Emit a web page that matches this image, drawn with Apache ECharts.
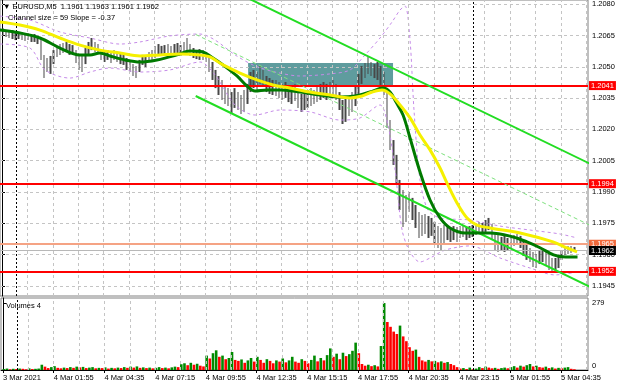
<!DOCTYPE html>
<html><head><meta charset="utf-8">
<script src="https://cdn.jsdelivr.net/npm/echarts@6/dist/echarts.min.js"></script>
<style>html,body{margin:0;padding:0;background:#fff}#c{width:620px;height:388px}</style>
</head><body><div id="c"></div><script>
// ---------- texts ----------
const headerText = '\u25BC EURUSD,M5  1.1961 1.1963 1.1961 1.1962';
const channelText = 'Channel size = 59 Slope = -0.37';
const volumeTitle = 'Volumes 4';
// ---------- axes ----------
const dateBars = [0,32,64,96,128,160,192,224,256,288,320,352];
const dateLabels = ['3 Mar 2021','4 Mar 01:55','4 Mar 04:35','4 Mar 07:15','4 Mar 09:55','4 Mar 12:35','4 Mar 15:15','4 Mar 17:55','4 Mar 20:35','4 Mar 23:15','5 Mar 01:55','5 Mar 04:35'];
const gridBars = [16,32,48,64,80,96,112,128,144,160,176,192,208,224,240,256,272,288,304,320,336,352,368];
const daySeparators = [9,297];
const priceTicks = [1.2080,1.2065,1.2050,1.2035,1.2020,1.2005,1.1990,1.1975,1.1960,1.1945];
const volumeTicks = [0,279];
// ---------- price bars (each entry = two M5 bars) ----------
const hi = [
1.20686,1.20676,1.20672,1.20676,1.20667,1.20662,1.20667,1.20657,1.20662,1.20652,
1.20657,1.20648,1.20638,1.20557,1.20542,1.20552,1.20580,1.20600,1.20609,1.20614,
1.20619,1.20609,1.20604,1.20580,1.20557,1.20552,1.20590,1.20619,1.20638,1.20619,
1.20609,1.20580,1.20571,1.20580,1.20571,1.20580,1.20571,1.20561,1.20566,1.20542,
1.20533,1.20513,1.20504,1.20533,1.20557,1.20552,1.20571,1.20580,1.20600,1.20609,
1.20600,1.20604,1.20609,1.20600,1.20609,1.20614,1.20604,1.20619,1.20638,1.20609,
1.20590,1.20580,1.20585,1.20580,1.20571,1.20557,1.20523,1.20485,1.20456,1.20437,
1.20413,1.20398,1.20379,1.20398,1.20379,1.20365,1.20389,1.20418,1.20475,1.20485,
1.20475,1.20504,1.20485,1.20456,1.20446,1.20437,1.20437,1.20427,1.20418,1.20427,
1.20413,1.20408,1.20418,1.20389,1.20370,1.20379,1.20389,1.20398,1.20389,1.20408,
1.20418,1.20427,1.20418,1.20427,1.20437,1.20418,1.20379,1.20341,1.20351,1.20360,
1.20379,1.20408,1.20466,1.20504,1.20518,1.20547,1.20523,1.20513,1.20523,1.20504,
1.20475,1.20389,1.20245,1.20149,1.20078,1.19958,1.19910,1.19886,1.19900,1.19872,
1.19838,1.19805,1.19790,1.19795,1.19785,1.19776,1.19757,1.19737,1.19728,1.19742,
1.19737,1.19728,1.19737,1.19733,1.19737,1.19742,1.19733,1.19737,1.19742,1.19747,
1.19757,1.19752,1.19766,1.19776,1.19747,1.19709,1.19694,1.19685,1.19690,1.19680,
1.19690,1.19694,1.19699,1.19690,1.19670,1.19651,1.19632,1.19613,1.19603,1.19622,
1.19632,1.19622,1.19603,1.19584,1.19584,1.19594,1.19622,1.19637,1.19642,1.19642,
1.19637];
const lo = [
1.20648,1.20643,1.20638,1.20633,1.20628,1.20633,1.20628,1.20624,1.20628,1.20619,
1.20619,1.20609,1.20533,1.20446,1.20475,1.20466,1.20513,1.20547,1.20557,1.20566,
1.20571,1.20557,1.20561,1.20518,1.20485,1.20475,1.20513,1.20557,1.20580,1.20571,
1.20561,1.20533,1.20523,1.20533,1.20518,1.20533,1.20523,1.20513,1.20509,1.20485,
1.20475,1.20456,1.20446,1.20475,1.20509,1.20499,1.20523,1.20533,1.20542,1.20557,
1.20552,1.20557,1.20557,1.20547,1.20561,1.20561,1.20552,1.20571,1.20571,1.20552,
1.20542,1.20537,1.20533,1.20533,1.20523,1.20475,1.20437,1.20398,1.20365,1.20341,
1.20322,1.20312,1.20279,1.20303,1.20293,1.20274,1.20284,1.20322,1.20379,1.20398,
1.20389,1.20418,1.20408,1.20379,1.20370,1.20365,1.20360,1.20351,1.20341,1.20351,
1.20331,1.20322,1.20336,1.20303,1.20284,1.20293,1.20303,1.20312,1.20322,1.20331,
1.20341,1.20351,1.20341,1.20351,1.20360,1.20341,1.20293,1.20226,1.20236,1.20264,
1.20284,1.20312,1.20370,1.20418,1.20446,1.20466,1.20456,1.20446,1.20437,1.20408,
1.20365,1.20207,1.20101,1.20030,1.19934,1.19814,1.19733,1.19757,1.19805,1.19766,
1.19728,1.19680,1.19690,1.19699,1.19680,1.19690,1.19651,1.19632,1.19622,1.19651,
1.19670,1.19661,1.19670,1.19661,1.19680,1.19685,1.19670,1.19680,1.19685,1.19694,
1.19709,1.19699,1.19709,1.19718,1.19670,1.19622,1.19613,1.19622,1.19613,1.19622,
1.19632,1.19642,1.19646,1.19632,1.19594,1.19575,1.19565,1.19541,1.19536,1.19555,
1.19565,1.19546,1.19527,1.19522,1.19527,1.19536,1.19575,1.19598,1.19603,1.19608,
1.19613];
const vol = [
4,6,3,5,4,6,5,3,7,4, 5,6,22,14,8,12,16,9,7,10,
8,12,9,14,11,13,8,10,12,7, 9,8,11,6,9,7,10,8,12,9,
14,10,15,9,11,8,10,7,9,12, 8,10,7,11,14,12,24,28,20,30,
22,26,18,15,60,48,70,82,55,60, 45,50,75,42,38,44,30,40,50,35,
55,42,30,45,38,28,40,35,48,32, 40,55,35,30,45,38,28,42,60,36,
50,40,62,90,55,68,45,72,58,66, 80,114,70,25,18,22,16,20,15,100,
279,200,180,160,150,185,140,120,95,80, 85,55,40,35,42,36,38,32,36,30,
33,25,20,12,6,8,4,10,3,6, 12,8,14,10,7,9,5,8,10,7,
12,16,10,18,14,20,25,15,18,12, 10,14,8,11,6,9,7,10,12,5,
3];
// ---------- indicators [bar index, price] ----------
const maYellow = [[-1.3,1.20715],[11.3,1.20700],[23.9,1.20676],[36.5,1.20638],[49.1,1.20604],[61.7,1.20580],[74.3,1.20566],[86.9,1.20552],[99.5,1.20557],[112.1,1.20561],[124.7,1.20557],[131.0,1.20547],[139.2,1.20509],[149.9,1.20470],[160.6,1.20437],[170.7,1.20413],[181.4,1.20398],[194.0,1.20379],[206.6,1.20365],[219.2,1.20351],[226.8,1.20360],[233.1,1.20379],[239.4,1.20389],[244.4,1.20370],[250.7,1.20317],[257.0,1.20255],[263.3,1.20173],[269.6,1.20102],[275.9,1.20015],[280.3,1.19943],[286.6,1.19848],[292.9,1.19776],[299.2,1.19742],[307.4,1.19728],[326.3,1.19704],[347.1,1.19661],[355.9,1.19632],[362.2,1.19613]];
const maGreen = [[-1.3,1.20676],[11.3,1.20662],[23.9,1.20638],[36.5,1.20590],[49.1,1.20557],[55.4,1.20557],[61.7,1.20566],[68.0,1.20552],[77.5,1.20533],[86.9,1.20523],[97.6,1.20533],[110.2,1.20557],[118.4,1.20576],[126.6,1.20571],[132.9,1.20542],[139.2,1.20509],[148.0,1.20456],[154.3,1.20408],[159.4,1.20384],[166.9,1.20389],[175.1,1.20389],[187.7,1.20379],[200.3,1.20365],[212.9,1.20355],[222.4,1.20360],[231.8,1.20379],[240.0,1.20398],[244.4,1.20379],[248.2,1.20331],[252.6,1.20269],[257.0,1.20159],[263.3,1.19996],[269.6,1.19862],[275.9,1.19776],[282.2,1.19728],[291.7,1.19704],[307.4,1.19704],[321.9,1.19685],[330.7,1.19661],[339.2,1.19632],[347.4,1.19599],[355.0,1.19589],[362.5,1.19589]];
const bandUpper = [[-1.3,1.20743],[17.6,1.20724],[36.5,1.20667],[55.4,1.20638],[74.3,1.20609],[86.9,1.20619],[105.8,1.20648],[124.7,1.20657],[134.2,1.20628],[146.8,1.20557],[159.4,1.20504],[172.0,1.20475],[187.7,1.20456],[206.6,1.20466],[219.2,1.20485],[228.7,1.20557],[238.1,1.20638],[245.7,1.20715],[250.7,1.20772],[253.9,1.20791],[257.0,1.20628],[259.5,1.20293],[263.3,1.19958],[268.3,1.19814],[275.9,1.19776],[294.8,1.19766],[313.7,1.19737],[332.6,1.19718],[351.5,1.19699],[362.2,1.19680]];
const bandLower = [[-1.3,1.20609],[17.6,1.20590],[27.1,1.20485],[42.8,1.20446],[55.4,1.20475],[68.0,1.20494],[86.9,1.20475],[105.8,1.20485],[124.7,1.20523],[134.2,1.20461],[146.8,1.20317],[159.4,1.20269],[175.1,1.20293],[194.0,1.20284],[212.9,1.20245],[225.5,1.20255],[238.1,1.20317],[243.1,1.20221],[247.6,1.20006],[252.0,1.19718],[257.0,1.19613],[263.3,1.19565],[269.6,1.19584],[279.1,1.19622],[294.8,1.19642],[313.7,1.19584],[332.6,1.19536],[348.3,1.19503],[362.2,1.19517]];
const channelBars = [122,370];
const channelUpper = [1.20950,1.20037];
const channelMid = [1.20655,1.19742];
const channelLower = [1.20360,1.19447];
const boxBars = [155.0,246.3];
const boxPrices = [1.20518,1.2041];
const redLevels = [1.2041,1.1994,1.1952];
const coralLevel = 1.1965;
const bidLevel = 1.1962;
// ---------- build ----------
const FONT = 'Liberation Sans, Arial, sans-serif';
const FS = 7.5;
const XMIN = -1.26, XMAX = 369.1;
const YMIN = 1.19402, YMAX = 1.2082;
const VMAX = 300;
const chart = echarts.init(document.getElementById('c'), null, {renderer:'canvas'});
const gridLineStyle = {color: '#c4c4c4', type: [3,3], width: 1};
const hLine = (v, extra) => [Object.assign({coord: [XMIN, v]}, extra), {coord: [XMAX, v]}];
const vLine = (b, y0, y1, extra) => [Object.assign({coord: [b, y0]}, extra), {coord: [b, y1]}];
const tag = (v, bg, line, w) => hLine(v, {
  lineStyle: {color: line, width: w, type: 'solid'},
  label: {show: true, position: 'end', distance: 1, formatter: () => v.toFixed(4),
    color: '#fff', backgroundColor: bg, padding: [1,2,0,2], fontSize: FS, fontFamily: FONT}
});
const gridItem = {lineStyle: gridLineStyle, label: {show: false}};
const sepItem = {lineStyle: {color: '#000', type: [2,2], width: 1}, label: {show: false}};
const pairs = (xs, ys) => xs.map((x,i) => [x, ys[i]]);
const txt = {fontSize: FS, fontWeight: 'normal', color: '#000', fontFamily: FONT};
const option = {
  animation: false,
  backgroundColor: '#fff',
  textStyle: {fontFamily: FONT},
  title: [
    {text: headerText, left: 3, top: 3, padding: 0, textStyle: txt},
    {text: channelText, left: 8, top: 14, padding: 0, textStyle: txt},
    {text: volumeTitle, left: 6, top: 302, padding: 0, textStyle: txt}
  ],
  grid: [
    {left: 0, top: 0, width: 588, height: 296, show: true, borderColor: '#808080', borderWidth: 1, backgroundColor: '#fff'},
    {left: 0, top: 298, width: 588, height: 72, show: true, borderColor: '#808080', borderWidth: 1, backgroundColor: '#fff'}
  ],
  xAxis: [
    {type: 'value', gridIndex: 0, min: XMIN, max: XMAX, axisLine: {show: false}, axisTick: {show: false}, axisLabel: {show: false}, splitLine: {show: false}},
    {type: 'value', gridIndex: 1, min: XMIN, max: XMAX, axisLine: {show: true, lineStyle: {color: '#000'}},
      axisTick: {show: true, customValues: dateBars, length: 3, lineStyle: {color: '#000'}},
      axisLabel: {customValues: dateBars, formatter: v => dateLabels[dateBars.indexOf(v)] || '', align: 'left', fontSize: FS, color: '#000', margin: 4, fontFamily: FONT},
      splitLine: {show: false}}
  ],
  yAxis: [
    {type: 'value', gridIndex: 0, position: 'right', min: YMIN, max: YMAX, axisLine: {show: true, lineStyle: {color: '#000'}},
      axisTick: {show: true, customValues: priceTicks, length: 3, lineStyle: {color: '#000'}},
      axisLabel: {customValues: priceTicks, formatter: v => v.toFixed(4), fontSize: FS, color: '#000', margin: 4, fontFamily: FONT},
      splitLine: {show: false}},
    {type: 'value', gridIndex: 1, position: 'right', min: 0, max: VMAX, axisLine: {show: true, lineStyle: {color: '#000'}},
      axisTick: {show: true, customValues: volumeTicks, length: 3, lineStyle: {color: '#000'}},
      axisLabel: {customValues: volumeTicks, formatter: v => v === 0 ? '{z|0}' : '{t|' + v + '}', fontSize: FS, color: '#000', margin: 4, fontFamily: FONT,
        rich: {z: {fontSize: FS, padding: [0,0,8,0], fontFamily: FONT}, t: {fontSize: FS, fontFamily: FONT}}},
      splitLine: {show: false}}
  ],
  series: [
    // horizontal price grid lines
    {type: 'lines', coordinateSystem: 'cartesian2d', xAxisIndex: 0, yAxisIndex: 0, z: 1, silent: true,
      lineStyle: {color: '#c4c4c4', type: [3,3], width: 1, opacity: 1, curveness: 0},
      data: priceTicks.map(v => ({coords: [[XMIN, v], [XMAX, v]]}))},
    // vertical grid lines main pane
    {type: 'line', xAxisIndex: 0, yAxisIndex: 0, data: [], z: 1, silent: true,
      markLine: {silent: true, symbol: ['none','none'], label: {show: false}, animation: false,
        lineStyle: gridLineStyle,
        data: gridBars.map(b => vLine(b, YMIN, YMAX, gridItem))
          .concat(daySeparators.map(b => vLine(b, YMIN, YMAX, sepItem)))}},
    // vertical grid lines volume pane
    {type: 'line', xAxisIndex: 1, yAxisIndex: 1, data: [], z: 1, silent: true,
      markLine: {silent: true, symbol: ['none','none'], label: {show: false}, animation: false,
        lineStyle: gridLineStyle,
        data: gridBars.map(b => vLine(b, 0, VMAX, gridItem))
          .concat(daySeparators.map(b => vLine(b, 0, VMAX, sepItem)))}},
    // teal box
    {type: 'line', xAxisIndex: 0, yAxisIndex: 0, data: [], z: 2, silent: true,
      markArea: {silent: true, itemStyle: {color: '#5f9c9e', opacity: 1},
        data: [[{coord: [boxBars[0], boxPrices[0]]}, {coord: [boxBars[1], boxPrices[1]]}]]}},
    // price bars
    {type: 'candlestick', xAxisIndex: 0, yAxisIndex: 0, z: 3, barWidth: 2, silent: true,
      encode: {x: 0, y: [1,2,3,4]},
      data: hi.map((h, g) => [2*g + 0.5, lo[g], h, lo[g], h]),
      itemStyle: {color: '#484848', color0: '#484848', borderColor: '#484848', borderColor0: '#484848', borderWidth: 0}},
    // bollinger-like bands
    {type: 'line', xAxisIndex: 0, yAxisIndex: 0, data: bandUpper, smooth: 0.3, symbol: 'none', z: 4,
      lineStyle: {color: '#c58be8', width: 1, type: [3,3]}},
    {type: 'line', xAxisIndex: 0, yAxisIndex: 0, data: bandLower, smooth: 0.3, symbol: 'none', z: 4,
      lineStyle: {color: '#c58be8', width: 1, type: [3,3]}},
    // regression channel
    {type: 'line', xAxisIndex: 0, yAxisIndex: 0, data: pairs(channelBars, channelUpper), symbol: 'none', z: 5,
      lineStyle: {color: '#22dd22', width: 2}},
    {type: 'line', xAxisIndex: 0, yAxisIndex: 0, data: pairs(channelBars, channelLower), symbol: 'none', z: 5,
      lineStyle: {color: '#22dd22', width: 2}},
    {type: 'line', xAxisIndex: 0, yAxisIndex: 0, data: pairs(channelBars, channelMid), symbol: 'none', z: 5,
      lineStyle: {color: '#7ee07e', width: 1, type: [4,3]}},
    // moving averages
    {type: 'line', xAxisIndex: 0, yAxisIndex: 0, data: maGreen, smooth: 0.35, symbol: 'none', z: 6,
      lineStyle: {color: '#007a00', width: 3}},
    {type: 'line', xAxisIndex: 0, yAxisIndex: 0, data: maYellow, smooth: 0.35, symbol: 'none', z: 6,
      lineStyle: {color: '#f5f000', width: 3}},
    // level lines with price tags
    {type: 'line', xAxisIndex: 0, yAxisIndex: 0, data: [], z: 8, silent: true,
      markLine: {silent: true, symbol: ['none','none'], animation: false,
        data: [tag(coralLevel, '#f26a3c', '#f5a384', 2), tag(bidLevel, '#000', '#b8b8b8', 1)]
          .concat(redLevels.map(v => tag(v, '#ff0000', '#ff0000', 2)))}},
    // volumes
    {type: 'bar', xAxisIndex: 1, yAxisIndex: 1, barWidth: 2.6, z: 3, silent: true,
      data: vol.map((v, g) => ({value: [2*g + 0.5, v], itemStyle: {color: (g > 0 && v < vol[g-1]) ? '#ff0000' : '#008a00'}}))}
  ]
};
chart.setOption(option);
</script></body></html>
